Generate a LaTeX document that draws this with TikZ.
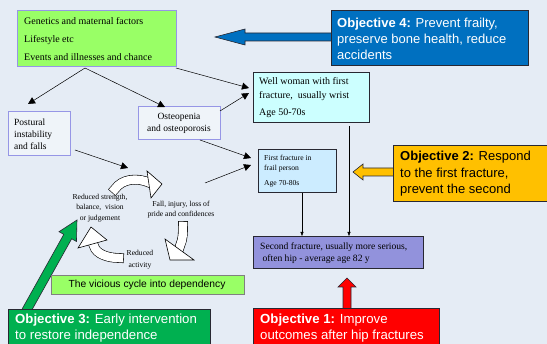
\documentclass[tikz,border=0pt]{standalone}
\usepackage{fontspec}
\setmainfont{Liberation Serif}
\newfontfamily\arial{Liberation Sans}
\usetikzlibrary{arrows.meta,calc}
\definecolor{bg}{RGB}{229,236,245}
\definecolor{lgreen}{RGB}{153,255,102}
\definecolor{objblue}{RGB}{0,112,192}
\definecolor{objorange}{RGB}{255,192,0}
\definecolor{objred}{RGB}{255,0,0}
\definecolor{objgreen}{RGB}{0,176,80}
\definecolor{lav}{RGB}{150,150,230}
\definecolor{purplebox}{RGB}{146,146,220}
\definecolor{cyanbox}{RGB}{204,255,255}
\definecolor{skybox}{RGB}{204,236,255}
\definecolor{edge}{RGB}{40,40,50}
\tikzset{
  box/.style={anchor=north west, inner sep=0pt, line width=0.8pt},
  txt/.style={inner sep=0pt, align=left, anchor=west},
  thin/.style={line width=0.5pt, -{Triangle[length=7pt,width=7pt]}},
  vthin/.style={line width=0.5pt, -{Triangle[length=4pt,width=3pt]}},
  blockarrow/.style={draw=edge, line width=0.6pt},
  cyc/.style={double=white, double distance=8.5pt, line width=0.6pt, draw=black, line cap=rect},
  cychead/.style={fill=white, draw=black, line width=0.6pt, line join=miter}
}
\begin{document}
\begin{tikzpicture}[x=1pt,y=-1pt]
\fill[bg] (0,0) rectangle (547,344);
\useasboundingbox (0,0) rectangle (547,344);

% block arrows
\draw[blockarrow, fill=objblue] (215,37) -- (245,29) -- (245,33) -- (332,33) -- (332,41) -- (245,41) -- (245,45) -- cycle;
\draw[blockarrow, fill=objorange] (353,172) -- (363,164) -- (363,168) -- (394,168) -- (394,176) -- (363,176) -- (363,180) -- cycle;
\draw[blockarrow, fill=objred] (347,278) -- (356,287) -- (351,287) -- (351,309) -- (343,309) -- (343,287) -- (338,287) -- cycle;
\coordinate (gA) at (20,322);
\coordinate (gB) at (77,220);
\coordinate (gH) at ($(gB)!19pt!(gA)$);
\draw[blockarrow, fill=objgreen] ($(gA)!4.5pt!90:(gB)$) -- ($(gH)!4.5pt!90:(gB)$) -- ($(gH)!10pt!90:(gB)$) -- (gB) -- ($(gH)!10pt!-90:(gB)$) -- ($(gH)!4.5pt!-90:(gB)$) -- ($(gA)!4.5pt!-90:(gB)$) -- cycle;

% boxes
\node[box, draw=lav, fill=lgreen, minimum width=159pt, minimum height=56pt] (gen) at (17,10) {};
\node[box, draw=edge, fill=objblue, minimum width=197pt, minimum height=55pt] (obj4) at (331,10) {};
\node[box, draw=edge, fill=cyanbox, minimum width=116pt, minimum height=50pt] (well) at (253,72) {};
\node[box, draw=lav, fill=bg!60!white, minimum width=62pt, minimum height=44pt] (post) at (8,111) {};
\node[box, draw=lav, fill=bg!60!white, minimum width=82pt, minimum height=33pt] (osteo) at (138,106) {};
\node[box, draw=edge, fill=skybox, minimum width=78pt, minimum height=43pt] (first) at (258,149) {};
\node[box, draw=edge, fill=objorange, minimum width=160pt, minimum height=56pt] (obj2) at (393,145) {};
\node[box, draw=edge, fill=purplebox, minimum width=170pt, minimum height=32pt] (second) at (253,236) {};
\node[box, draw=edge, fill=objred, minimum width=186pt, minimum height=45pt] (obj1) at (253,308) {};
\node[box, draw=gray, fill=lgreen, minimum width=193pt, minimum height=19pt] (vic) at (51,275) {};
\node[box, draw=edge, fill=objgreen, minimum width=202pt, minimum height=45pt] (obj3) at (8,309) {};

% texts
\node[txt, font=\fontsize{10}{18}\selectfont] (tgen) at (24,39) {Genetics and maternal factors\\Lifestyle etc\\Events and illnesses and chance};
\node[txt, font=\arial\fontsize{13}{16}\selectfont, text=white] (tobj4) at (337,39) {\textbf{Objective 4:} Prevent frailty,\\preserve bone health, reduce\\accidents};
\node[txt, font=\fontsize{10}{14}\selectfont] (twell) at (259,89) {Well woman with first\\fracture,\ \ usually wrist};
\node[txt, font=\fontsize{10}{14}\selectfont] (twellage) at (259,113) {Age 50-70s};
\node[txt, font=\fontsize{9.5}{12}\selectfont] (tpost) at (14,134) {Postural\\instability\\and falls};
\node[inner sep=0pt, align=center, font=\fontsize{9.5}{12}\selectfont] (tosteo) at (179,123) {Osteopenia\\and osteoporosis};
\node[txt, font=\fontsize{7.6}{10}\selectfont] (tfirst) at (264,164) {First fracture in\\frail person};
\node[txt, font=\fontsize{7.6}{10}\selectfont] (tfirstage) at (264,184) {Age 70-80s};
\node[txt, font=\arial\fontsize{13}{16.5}\selectfont] (tobj2) at (400,174) {\textbf{Objective 2:} Respond\\to the first fracture,\\prevent the second};
\node[txt, font=\fontsize{9.6}{12}\selectfont] (tsecond) at (260,253) {Second fracture, usually more serious,\\\ often hip - average age 82 y};
\node[txt, font=\arial\fontsize{13.2}{15.5}\selectfont, text=white] (tobj1) at (260,328) {\textbf{Objective 1:} Improve\\outcomes after hip fractures};
\node[txt, font=\arial\fontsize{13.2}{15.5}\selectfont, text=white] (tobj3) at (15,328) {\textbf{Objective 3:} Early intervention\\to restore independence};
\node[inner sep=0pt, font=\arial\fontsize{10.3}{12}\selectfont] (tvic) at (147,285) {The vicious cycle into dependency};
\node[inner sep=0pt, align=center, font=\fontsize{7.6}{10.5}\selectfont] (tred) at (100,208) {Reduced strength,\\balance,\ \ vision\\or judgement};
\node[inner sep=0pt, align=center, font=\fontsize{7.6}{10}\selectfont] (tfall) at (181,210) {Fall, injury, loss of\\pride and confidences};
\node[inner sep=0pt, align=center, font=\fontsize{7.6}{12}\selectfont] (tact) at (140,260) {Reduced\\activity};

% thin connectors
\coordinate (g1) at (85,68);
\coordinate (p1) at (28,104);
\coordinate (o1) at (165,107);
\coordinate (g2) at (176,68);
\coordinate (w1) at (249,88);
\coordinate (o2) at (220,111);
\coordinate (w2) at (249,93);
\coordinate (o3) at (200,140);
\coordinate (f1) at (251,158);
\coordinate (p2) at (75,150);
\coordinate (c1) at (128,168);
\coordinate (c2) at (205,183);
\coordinate (f2) at (251,165);
\draw[thin] (g1) -- (p1);
\draw[thin] (g1) -- (o1);
\draw[thin] (g2) -- (w1);
\draw[thin] (o2) -- (w2);
\draw[thin] (o3) -- (f1);
\draw[thin] (p2) -- (c1);
\draw[thin] (c2) -- (f2);
\draw[vthin] (first.south -| 302,0) -- (second.north -| 302,0);
\coordinate (v1) at (349,126);
\draw[vthin] (v1) -- (second.north -| v1);

% cycle arrows
\draw[cyc] (115,189) .. controls (122,179) and (137,177) .. (150,183);
\draw[cychead] (147,171) -- (162,184) -- (151,198) -- cycle;
\draw[cyc] (183,226) .. controls (183,233) and (183,239) .. (180,246);
\draw[cychead] (165,239) -- (170,260) -- (194,260) -- cycle;
\draw[cyc] (119,258) .. controls (108,258) and (96,254) .. (94,246);
\draw[cychead] (78,248) -- (91,227) -- (107,240) -- cycle;
\end{tikzpicture}
\end{document}
